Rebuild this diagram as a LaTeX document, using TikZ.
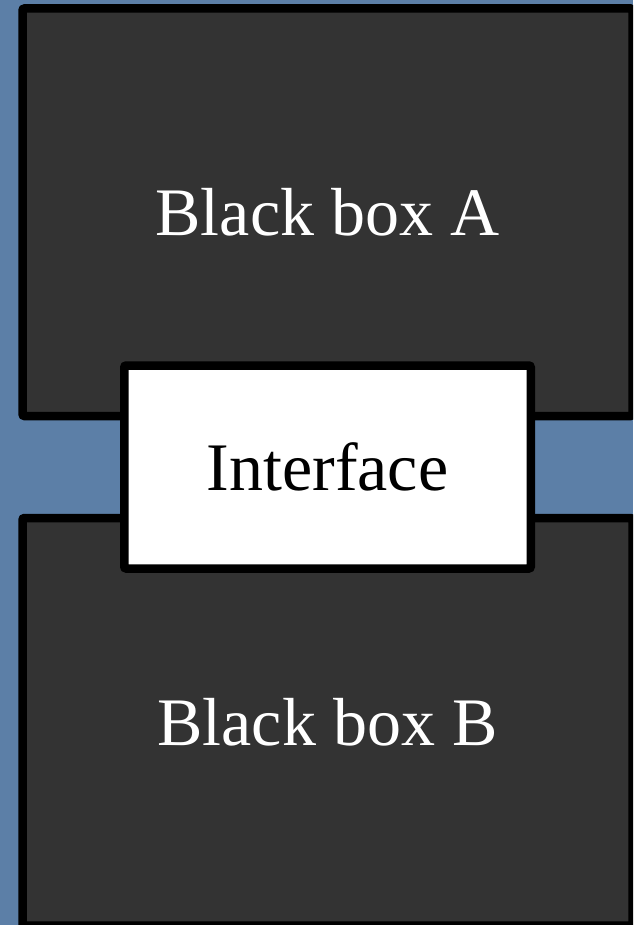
\documentclass[tikz,border=0pt]{standalone}
\usepackage{fontspec}
\setmainfont{Liberation Serif}
\usetikzlibrary{positioning,calc}
\definecolor{slideblue}{RGB}{92,127,167}
\definecolor{boxgray}{RGB}{51,51,51}
\tikzset{
	panel/.style={
			draw=black, line width=8.5pt, rounded corners=2pt,
			inner sep=0pt, outer sep=0pt,
			font=\fontsize{68}{80}\selectfont
		},
	blackbox/.style={
			panel, fill=boxgray, text=white,
			minimum width=610pt, minimum height=407.5pt
		},
	interfacebox/.style={
			panel, fill=white, text=black,
			minimum width=406.5pt, minimum height=203pt
		}
}

\begin{document}
\begin{tikzpicture}[x=1pt, y=1pt]

			% Slide background
			\useasboundingbox (0,0) rectangle (633,-925);
			\clip (0,0) rectangle (633,-925);
			\fill[slideblue] (0,0) rectangle (633,-925);

			% The two black boxes
			\node[blackbox] (boxA) at (327.5,-212.25) {Black box A};
			\node[blackbox, below=102pt of boxA] (boxB) {Black box B};

			% The interface between them
			\node[interfacebox] (iface) at ($(boxA.south)!0.5!(boxB.north)$) {Interface};
		\end{tikzpicture}
\end{document}
